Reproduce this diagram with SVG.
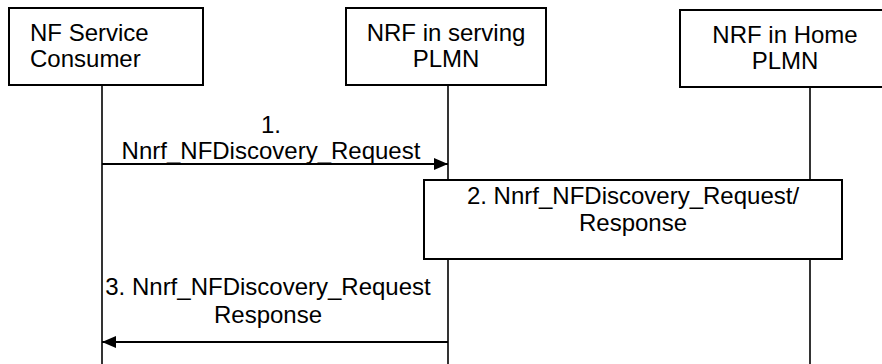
<svg xmlns="http://www.w3.org/2000/svg" width="882" height="364" viewBox="0 0 882 364">
<style>
.box{fill:#fff;stroke:#000;stroke-width:2}
.ll{stroke:#000;stroke-width:1.6;fill:none}
.msg{stroke:#000;stroke-width:2;fill:none}
text{font-family:"Liberation Sans",Arial,sans-serif;font-size:24px;fill:#000}
.c{text-anchor:middle}
</style>
<defs>
<marker id="ah" markerWidth="14" markerHeight="12" refX="14" refY="6" orient="auto" markerUnits="userSpaceOnUse">
<path d="M0,0 L14,6 L0,12 Z" fill="#000"/>
</marker>
</defs>
<g id="connectors">
<line class="ll" x1="102" y1="85" x2="102" y2="364"/>
<line class="ll" x1="448" y1="85" x2="448" y2="364"/>
<line class="ll" x1="810" y1="87" x2="810" y2="364"/>
<line class="msg" x1="102" y1="164" x2="448" y2="164" marker-end="url(#ah)"/>
<text class="c" x="271" y="133">1.</text>
<text class="c" x="271" y="159">Nnrf_NFDiscovery_Request</text>
<line class="msg" x1="448" y1="342" x2="102" y2="342" marker-end="url(#ah)"/>
<text class="c" x="268" y="295">3. Nnrf_NFDiscovery_Request</text>
<text class="c" x="268" y="323">Response</text>
</g>
<g id="consumer">
<rect class="box" x="9" y="8" width="194" height="77"/>
<text x="30" y="41">NF Service</text>
<text x="30" y="67">Consumer</text>
</g>
<g id="nrf-serving">
<rect class="box" x="346" y="8" width="200" height="77"/>
<text class="c" x="446" y="41">NRF in serving</text>
<text class="c" x="446" y="67">PLMN</text>
</g>
<g id="nrf-home">
<rect class="box" x="680" y="10" width="210" height="77"/>
<text class="c" x="785" y="43">NRF in Home</text>
<text class="c" x="785" y="69">PLMN</text>
</g>
<g id="step2">
<rect class="box" x="424" y="180" width="418" height="79"/>
<text class="c" x="633" y="204">2. Nnrf_NFDiscovery_Request/</text>
<text class="c" x="633" y="231">Response</text>
</g>
</svg>
